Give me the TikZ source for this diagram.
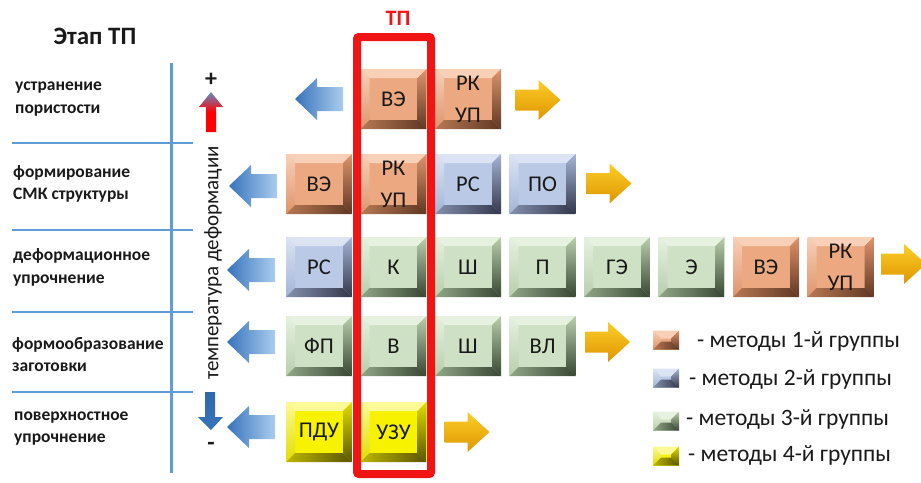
\documentclass[tikz,border=0pt]{standalone}
\usepackage{fontspec}
\setmainfont{Carlito}
\definecolor{gAF}{RGB}{236,168,128}
\definecolor{gAT}{RGB}{248,208,184}
\definecolor{gAL}{RGB}{222,148,108}
\definecolor{gAR}{RGB}{95,55,35}
\definecolor{gAB}{RGB}{160,100,65}
\definecolor{gBF}{RGB}{186,201,230}
\definecolor{gBT}{RGB}{220,228,244}
\definecolor{gBL}{RGB}{165,180,214}
\definecolor{gBR}{RGB}{50,55,75}
\definecolor{gBB}{RGB}{110,120,148}
\definecolor{gCF}{RGB}{206,225,196}
\definecolor{gCT}{RGB}{230,241,224}
\definecolor{gCL}{RGB}{184,207,172}
\definecolor{gCR}{RGB}{55,70,50}
\definecolor{gCB}{RGB}{120,142,110}
\definecolor{gDF}{RGB}{246,242,0}
\definecolor{gDT}{RGB}{252,250,150}
\definecolor{gDL}{RGB}{226,220,0}
\definecolor{gDR}{RGB}{90,85,0}
\definecolor{gDB}{RGB}{165,158,0}
\definecolor{bluD}{RGB}{55,115,188}
\definecolor{bluL}{RGB}{170,205,238}
\definecolor{yelT}{RGB}{252,205,40}
\definecolor{yelB}{RGB}{222,150,0}
\definecolor{panel}{RGB}{95,155,212}
\definecolor{txt}{RGB}{25,25,25}
\definecolor{tpred}{RGB}{240,20,20}
\tikzset{
  bevw/.code={\def\bevw{#1}},
  bevw=9pt,
  bevbox/.style={fill=#1F, minimum width=66pt, minimum height=60pt, inner sep=0pt,
    align=center, text=txt, font=\fontsize{22.5}{32}\selectfont,
    path picture={
      \coordinate (NW) at (path picture bounding box.north west);
      \coordinate (NE) at (path picture bounding box.north east);
      \coordinate (SW) at (path picture bounding box.south west);
      \coordinate (SE) at (path picture bounding box.south east);
      \fill[#1T] (NW) -- (NE) -- ([xshift=-\bevw,yshift=-\bevw]NE) -- ([xshift=\bevw,yshift=-\bevw]NW) -- cycle;
      \shade[top color=#1T, bottom color=#1L] (NW) -- (SW) -- ([xshift=\bevw,yshift=\bevw]SW) -- ([xshift=\bevw,yshift=-\bevw]NW) -- cycle;
      \shade[left color=#1B!70!#1F, right color=#1R] (SW) -- (SE) -- ([xshift=-\bevw,yshift=\bevw]SE) -- ([xshift=\bevw,yshift=\bevw]SW) -- cycle;
      \shade[top color=#1L, bottom color=#1R] (NE) -- (SE) -- ([xshift=-\bevw,yshift=\bevw]SE) -- ([xshift=-\bevw,yshift=-\bevw]NE) -- cycle;
    }},
  swatch/.style={bevbox=#1, bevw=8pt, minimum width=26pt, minimum height=19pt},
  stage/.style={anchor=west, align=left, inner sep=0pt, text=txt, font=\bfseries\fontsize{17.5}{22.5}\selectfont},
  legtext/.style={anchor=west, inner sep=0pt, text=txt, font=\fontsize{23.5}{23.5}\selectfont},
  larr/.pic={\shade[left color=bluD, right color=bluL] (-24,0) -- (-2,-21) -- (-2,-12) -- (24,-12) -- (24,12) -- (-2,12) -- (-2,21) -- cycle;},
  rarr/.pic={\shade[top color=yelT, bottom color=yelB] (23,0) -- (1,-20) -- (1,-10.5) -- (-22,-10.5) -- (-22,10.5) -- (1,10.5) -- (1,20) -- cycle;},
}
\begin{document}
\begin{tikzpicture}[x=1pt,y=-1pt]
\useasboundingbox (0,0) rectangle (921,482);
% left panel
\node[text=txt, font=\bfseries\fontsize{25}{25}\selectfont] (title) at (95,36) {Этап ТП};
\draw[panel, line width=3pt] (171,63) -- (171,473);
\foreach \yy in {143,230,312,392} \draw[panel, line width=2.5pt] (12,\yy) -- (193,\yy);
\node[stage] (s1) at (15,99) {устранение\\пористости};
\node[stage] (s2) at (13,184) {формирование\\СМК структуры};
\node[stage] (s3) at (13,267.5) {деформационное\\упрочнение};
\node[stage] (s4) at (12,354.5) {формообразование\\заготовки};
\node[stage] (s5) at (14,428.5) {поверхностное\\упрочнение};
% temperature axis
\node[text=txt, font=\bfseries\fontsize{24}{24}\selectfont] (plus) at (211,80) {+};
\shade[top color=bluD!80!white, bottom color=red, middle color=red] (211,92) -- (223,107) -- (216,107) -- (216,132) -- (206,132) -- (206,107) -- (199,107) -- cycle;
\node[rotate=90, text=txt, font=\fontsize{21}{21}\selectfont] (temp) at (213,263) {температура деформации};
\shade[top color=bluD!90!black, bottom color=bluD] (205,392) -- (215,392) -- (215,417) -- (223,417) -- (211,430) -- (198,417) -- (205,417) -- cycle;
\node[text=txt, font=\bfseries\fontsize{24}{24}\selectfont] (minus) at (211,446) {-};
% row 1
\node[bevbox=gA] (r1b2) at (393.5,99) {ВЭ};
\node[bevbox=gA] (r1b3) at (468,99) {РК\\УП};
% row 2
\node[bevbox=gA] (r2b1) at (319,184) {ВЭ};
\node[bevbox=gA] (r2b2) at (393.5,184) {РК\\УП};
\node[bevbox=gB] (r2b3) at (468,184) {РС};
\node[bevbox=gB] (r2b4) at (542.5,184) {ПО};
% row 3
\node[bevbox=gB] (r3b1) at (319,267) {РС};
\node[bevbox=gC] (r3b2) at (393.5,267) {К};
\node[bevbox=gC] (r3b3) at (468,267) {Ш};
\node[bevbox=gC] (r3b4) at (542.5,267) {П};
\node[bevbox=gC] (r3b5) at (617,267) {ГЭ};
\node[bevbox=gC] (r3b6) at (691.5,267) {Э};
\node[bevbox=gA] (r3b7) at (766,267) {ВЭ};
\node[bevbox=gA] (r3b8) at (840.5,267) {РК\\УП};
% row 4
\node[bevbox=gC] (r4b1) at (319,346) {ФП};
\node[bevbox=gC] (r4b2) at (393.5,346) {В};
\node[bevbox=gC] (r4b3) at (468,346) {Ш};
\node[bevbox=gC] (r4b4) at (542.5,346) {ВЛ};
% row 5
\node[bevbox=gD] (r5b1) at (319,432) {ПДУ};
\node[bevbox=gD] (r5b2) at (393.5,432) {УЗУ};
% arrows
\pic at (319,99) {larr};
\pic at (253,186) {larr};
\pic at (251,270) {larr};
\pic at (251,342) {larr};
\pic at (251,427) {larr};
\pic at (537.5,100) {rarr};
\pic at (608.5,183.5) {rarr};
\pic at (903,264) {rarr};
\pic at (607,342) {rarr};
\pic at (466.5,432) {rarr};
% TP frame
\node[draw=tpred, line width=8pt, rounded corners=2pt, minimum width=74pt, minimum height=437pt, inner sep=0pt] (tp) at (394,255.5) {};
\node[text=tpred, font=\bfseries\fontsize{22}{22}\selectfont] (tplabel) at (398,18) {ТП};
% legend
\node[swatch=gA] (l1) at (666,340) {};
\node[swatch=gB] (l2) at (666,378) {};
\node[swatch=gC] (l3) at (666,421) {};
\node[swatch=gD] (l4) at (666,456) {};
\node[legtext] (t1) at (697,341) {- методы 1-й группы};
\node[legtext] (t2) at (689,379) {- методы 2-й группы};
\node[legtext] (t3) at (686,419) {- методы 3-й группы};
\node[legtext] (t4) at (688,455) {- методы 4-й группы};
\end{tikzpicture}
\end{document}
